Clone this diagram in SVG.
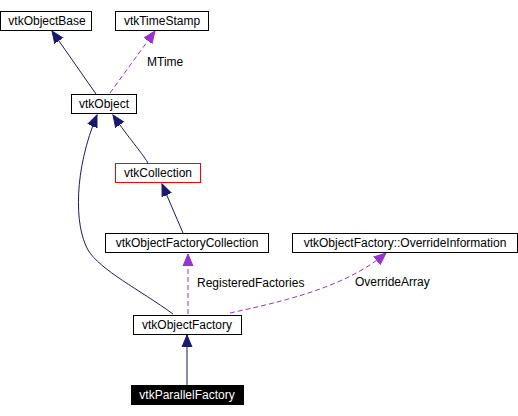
<svg xmlns="http://www.w3.org/2000/svg" width="518" height="416" viewBox="0 0 518 416">
<style>
.box{fill:#fff;stroke:#000;stroke-width:1}
.t{font-family:"Liberation Sans",Arial,sans-serif;font-size:12px;text-anchor:middle;fill:#000}
.lbl{font-family:"Liberation Sans",Arial,sans-serif;font-size:12px;fill:#000}
.inh{fill:none;stroke:#191970;stroke-width:1}
.use{fill:none;stroke:#9a32cd;stroke-width:1;stroke-dasharray:5,3}
</style>
<defs>
<marker id="an" markerUnits="userSpaceOnUse" markerWidth="14" markerHeight="12" refX="12" refY="5" orient="auto" viewBox="0 0 14 10">
<path d="M0,0 L12,5 L0,10 z" fill="#191970" stroke="#191970"/>
</marker>
<marker id="ap" markerUnits="userSpaceOnUse" markerWidth="14" markerHeight="12" refX="12" refY="5" orient="auto" viewBox="0 0 14 10">
<path d="M0,0 L12,5 L0,10 z" fill="#9a32cd" stroke="#9a32cd"/>
</marker>
</defs>
<rect width="518" height="416" fill="#fff"/>
<g id="edges">
<path class="inh" d="M96,94 L52,31" marker-end="url(#an)"/>
<path class="use" d="M110,93 L155,31" marker-end="url(#ap)"/>
<path class="inh" d="M148,163 C140,150 130,140 113,115" marker-end="url(#an)"/>
<path class="inh" d="M173,314 C140,290 100,270 88,250 C74,225 74,170 97,115" marker-end="url(#an)"/>
<path class="inh" d="M183,233 L162,184" marker-end="url(#an)"/>
<path class="use" d="M188,314 L188,254" marker-end="url(#ap)"/>
<path class="use" d="M230,313 C280,302 345,288 386,253" marker-end="url(#ap)"/>
<path class="inh" d="M187,385 L187,335" marker-end="url(#an)"/>
<text class="lbl" x="147" y="66">MTime</text>
<text class="lbl" x="197" y="287">RegisteredFactories</text>
<text class="lbl" x="355" y="286">OverrideArray</text>
</g>
<g id="vtkObjectBase"><rect class="box" x="0.5" y="11.5" width="91" height="19"/><text class="t" x="47" y="25">vtkObjectBase</text></g>
<g id="vtkTimeStamp"><rect class="box" x="115.5" y="11.5" width="93" height="19"/><text class="t" x="162" y="25">vtkTimeStamp</text></g>
<g id="vtkObject"><rect class="box" x="71.5" y="94.5" width="65" height="19"/><text class="t" x="104" y="108">vtkObject</text></g>
<g id="vtkCollection"><rect class="box" x="115.5" y="163.5" width="85" height="19" style="stroke:#f00"/><text class="t" x="158" y="177">vtkCollection</text></g>
<g id="vtkObjectFactoryCollection"><rect class="box" x="105.5" y="233.5" width="163" height="19"/><text class="t" x="187" y="247">vtkObjectFactoryCollection</text></g>
<g id="vtkObjectFactoryOverrideInformation"><rect class="box" x="292.5" y="233.5" width="225" height="19"/><text class="t" x="405" y="247">vtkObjectFactory::OverrideInformation</text></g>
<g id="vtkObjectFactory"><rect class="box" x="133.5" y="315.5" width="108" height="19"/><text class="t" x="187" y="329">vtkObjectFactory</text></g>
<g id="vtkParallelFactory"><rect x="131.5" y="385.5" width="112" height="19" fill="#000" stroke="#000"/><text class="t" x="187" y="399" style="fill:#fff">vtkParallelFactory</text></g>
</svg>
